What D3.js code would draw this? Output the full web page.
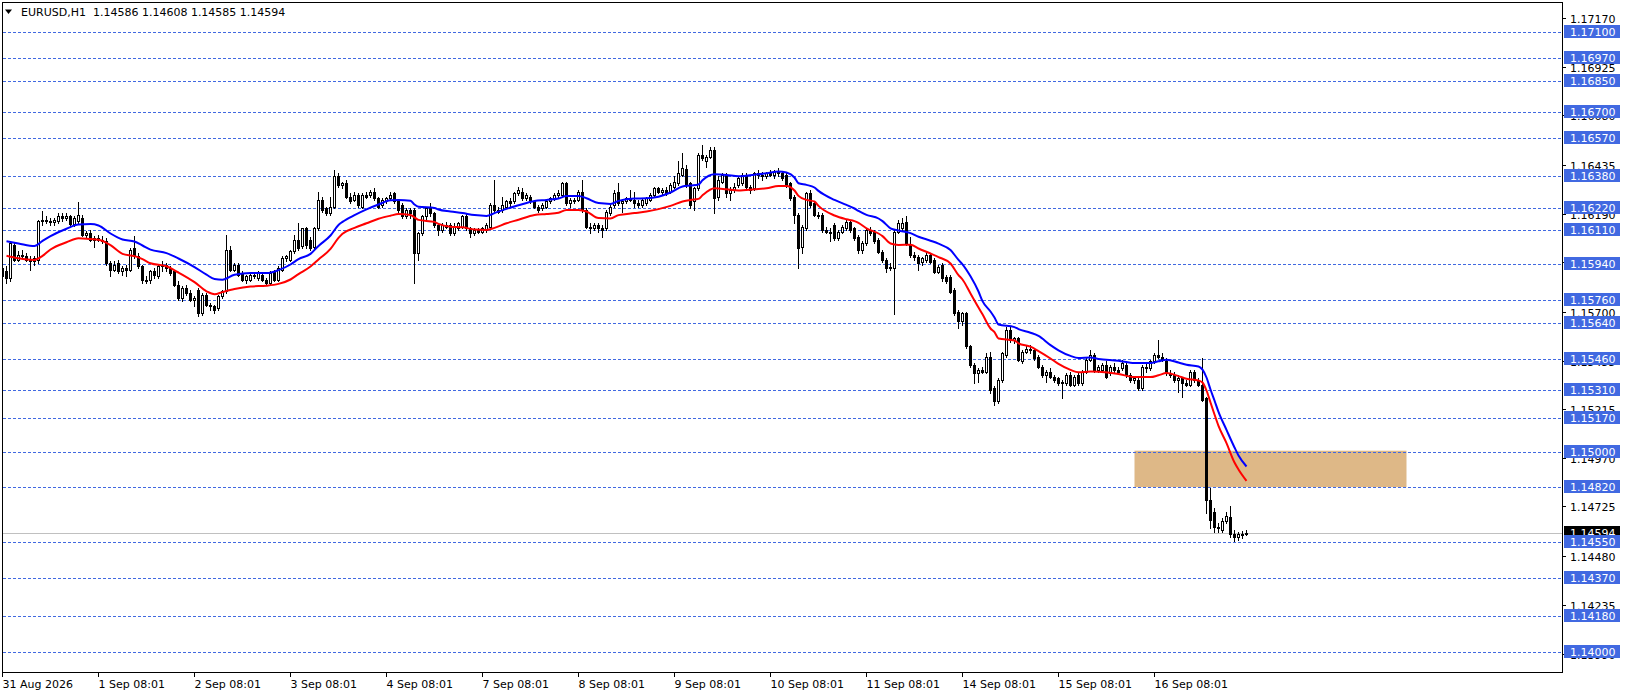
<!DOCTYPE html>
<html><head><meta charset="utf-8">
<script src="https://cdn.jsdelivr.net/npm/d3@7/dist/d3.min.js"></script>
<style>
body{margin:0;background:#fff;}
svg{display:block;}
text{font-family:"DejaVu Sans",sans-serif;font-size:11px;}
</style>
</head><body>
<svg id="chart" width="1626" height="696"></svg>
<script>
// ---------------- DATA ----------------
const symbol = "EURUSD,H1";
const opens = [
1.15918,1.15901,1.15867,1.16034,1.15959,1.15984,1.15976,1.15959,1.15951,1.15959,
1.16151,1.16159,1.16151,1.16146,1.16151,1.16176,1.16167,1.16176,1.16139,1.16151,
1.16167,1.16084,1.16092,1.16059,1.16067,1.16059,1.16051,1.15942,1.15909,1.15942,
1.15901,1.15917,1.15909,1.16017,1.15976,1.15926,1.15859,1.15859,1.15901,1.15876,
1.15926,1.15934,1.15917,1.15901,1.15834,1.15767,1.15817,1.15792,1.15759,1.15809,
1.15692,1.15784,1.15734,1.15726,1.15717,1.15776,1.15801,1.16009,1.15909,1.15934,
1.15892,1.15859,1.15859,1.15884,1.15867,1.15884,1.15859,1.15842,1.15901,1.15859,
1.15909,1.15967,1.15959,1.16001,1.16059,1.16026,1.16117,1.16058,1.16025,1.16116,
1.16258,1.16216,1.16191,1.16225,1.16375,1.16333,1.16341,1.16275,1.16258,1.16283,
1.16225,1.16283,1.16283,1.16300,1.16266,1.16233,1.16250,1.16266,1.16291,1.16250,
1.16233,1.16175,1.16208,1.16208,1.15991,1.16091,1.16175,1.16216,1.16191,1.16133,
1.16108,1.16133,1.16133,1.16091,1.16116,1.16125,1.16175,1.16116,1.16091,1.16108,
1.16100,1.16108,1.16125,1.16233,1.16208,1.16208,1.16225,1.16250,1.16250,1.16291,
1.16300,1.16266,1.16275,1.16250,1.16225,1.16216,1.16225,1.16250,1.16266,1.16283,
1.16283,1.16341,1.16241,1.16258,1.16258,1.16300,1.16208,1.16125,1.16116,1.16133,
1.16116,1.16116,1.16191,1.16233,1.16300,1.16241,1.16250,1.16266,1.16258,1.16241,
1.16233,1.16241,1.16258,1.16283,1.16316,1.16300,1.16308,1.16300,1.16325,1.16341,
1.16383,1.16411,1.16341,1.16250,1.16316,1.16483,1.16450,1.16475,1.16508,1.16275,
1.16350,1.16383,1.16291,1.16308,1.16333,1.16341,1.16383,1.16325,1.16316,1.16391,
1.16383,1.16375,1.16391,1.16383,1.16400,1.16391,1.16383,1.16341,1.16275,1.16183,
1.16025,1.16116,1.16291,1.16241,1.16183,1.16183,1.16108,1.16100,1.16133,1.16066,
1.16100,1.16116,1.16150,1.16116,1.16075,1.16008,1.16041,1.16108,1.16100,1.16058,
1.16000,1.15958,1.15916,1.15916,1.16100,1.16116,1.16150,1.16034,1.15984,1.15975,
1.15950,1.15959,1.15984,1.15959,1.15900,1.15934,1.15875,1.15875,1.15809,1.15700,
1.15650,1.15692,1.15525,1.15434,1.15392,1.15409,1.15400,1.15475,1.15317,1.15250,
1.15359,1.15484,1.15609,1.15559,1.15567,1.15450,1.15500,1.15512,1.15509,1.15475,
1.15425,1.15384,1.15400,1.15375,1.15367,1.15342,1.15342,1.15384,1.15334,1.15384,
1.15342,1.15400,1.15459,1.15484,1.15409,1.15409,1.15434,1.15392,1.15425,1.15409,
1.15417,1.15434,1.15384,1.15359,1.15359,1.15317,1.15425,1.15417,1.15450,1.15484,
1.15475,1.15450,1.15392,1.15384,1.15359,1.15367,1.15342,1.15334,1.15400,1.15359,
1.15334,1.15267,1.14758,1.14700,1.14625,1.14609,1.14650,1.14675,1.14590,1.14575,
1.14590,1.14586];
const highs = [
1.15926,1.15926,1.16050,1.16042,1.16001,1.16009,1.15992,1.15976,1.15976,1.16159,
1.16201,1.16176,1.16167,1.16167,1.16192,1.16192,1.16192,1.16184,1.16176,1.16246,
1.16184,1.16101,1.16109,1.16076,1.16084,1.16076,1.16067,1.15951,1.15951,1.15959,
1.15926,1.15934,1.16017,1.16076,1.15992,1.15934,1.15876,1.15909,1.15917,1.15934,
1.15951,1.15942,1.15926,1.15909,1.15851,1.15826,1.15834,1.15809,1.15776,1.15817,
1.15792,1.15792,1.15742,1.15734,1.15784,1.15809,1.16084,1.16026,1.15942,1.15942,
1.15901,1.15884,1.15892,1.15892,1.15901,1.15892,1.15867,1.15901,1.15909,1.15926,
1.15976,1.15984,1.16009,1.16084,1.16142,1.16117,1.16125,1.16075,1.16125,1.16300,
1.16275,1.16225,1.16275,1.16408,1.16391,1.16350,1.16358,1.16291,1.16300,1.16291,
1.16291,1.16300,1.16308,1.16316,1.16275,1.16266,1.16275,1.16300,1.16300,1.16258,
1.16241,1.16216,1.16216,1.16216,1.16100,1.16183,1.16225,1.16241,1.16200,1.16141,
1.16141,1.16150,1.16141,1.16141,1.16150,1.16183,1.16191,1.16125,1.16116,1.16116,
1.16125,1.16141,1.16241,1.16358,1.16225,1.16275,1.16258,1.16266,1.16300,1.16325,
1.16316,1.16291,1.16283,1.16258,1.16233,1.16241,1.16258,1.16275,1.16291,1.16308,
1.16350,1.16350,1.16266,1.16266,1.16308,1.16358,1.16216,1.16141,1.16141,1.16141,
1.16133,1.16208,1.16233,1.16308,1.16341,1.16258,1.16275,1.16308,1.16300,1.16258,
1.16266,1.16275,1.16291,1.16325,1.16325,1.16316,1.16325,1.16341,1.16375,1.16450,
1.16491,1.16433,1.16350,1.16325,1.16491,1.16533,1.16483,1.16525,1.16525,1.16375,
1.16391,1.16391,1.16325,1.16341,1.16375,1.16391,1.16391,1.16333,1.16400,1.16408,
1.16400,1.16400,1.16408,1.16408,1.16416,1.16400,1.16391,1.16350,1.16283,1.16191,
1.16133,1.16300,1.16308,1.16250,1.16200,1.16191,1.16125,1.16116,1.16141,1.16108,
1.16133,1.16158,1.16158,1.16125,1.16083,1.16050,1.16116,1.16125,1.16108,1.16066,
1.16008,1.15966,1.15941,1.16108,1.16158,1.16166,1.16175,1.16075,1.16000,1.15984,
1.15975,1.16000,1.15992,1.15967,1.15934,1.15942,1.15884,1.15884,1.15817,1.15709,
1.15700,1.15700,1.15534,1.15442,1.15417,1.15425,1.15492,1.15500,1.15325,1.15367,
1.15500,1.15625,1.15625,1.15575,1.15575,1.15509,1.15525,1.15534,1.15517,1.15484,
1.15434,1.15409,1.15417,1.15384,1.15375,1.15359,1.15392,1.15400,1.15384,1.15392,
1.15409,1.15467,1.15509,1.15492,1.15434,1.15442,1.15450,1.15434,1.15442,1.15425,
1.15459,1.15450,1.15392,1.15375,1.15367,1.15434,1.15442,1.15459,1.15492,1.15559,
1.15492,1.15467,1.15409,1.15400,1.15384,1.15375,1.15359,1.15409,1.15409,1.15367,
1.15467,1.15275,1.14817,1.14717,1.14642,1.14667,1.14700,1.14725,1.14610,1.14600,
1.14605,1.14608];
const lows = [
1.15843,1.15842,1.15851,1.15951,1.15951,1.15967,1.15951,1.15909,1.15934,1.15942,
1.16134,1.16142,1.16134,1.16134,1.16142,1.16151,1.16159,1.16134,1.16126,1.16142,
1.16076,1.16067,1.16051,1.16022,1.16051,1.16042,1.15934,1.15876,1.15901,1.15892,
1.15884,1.15876,1.15901,1.15967,1.15917,1.15842,1.15842,1.15842,1.15867,1.15867,
1.15901,1.15901,1.15884,1.15826,1.15759,1.15751,1.15784,1.15751,1.15726,1.15676,
1.15684,1.15726,1.15709,1.15692,1.15709,1.15767,1.15792,1.15901,1.15901,1.15876,
1.15851,1.15842,1.15851,1.15867,1.15859,1.15851,1.15834,1.15834,1.15851,1.15851,
1.15901,1.15951,1.15951,1.15992,1.16009,1.16017,1.16017,1.16008,1.16016,1.16108,
1.16200,1.16183,1.16183,1.16216,1.16325,1.16316,1.16266,1.16241,1.16250,1.16225,
1.16216,1.16266,1.16275,1.16258,1.16216,1.16225,1.16241,1.16258,1.16241,1.16200,
1.16166,1.16166,1.16166,1.15845,1.15958,1.16083,1.16158,1.16175,1.16125,1.16083,
1.16100,1.16116,1.16083,1.16083,1.16108,1.16116,1.16108,1.16075,1.16083,1.16091,
1.16091,1.16100,1.16116,1.16200,1.16191,1.16200,1.16216,1.16225,1.16241,1.16283,
1.16258,1.16258,1.16241,1.16216,1.16200,1.16208,1.16216,1.16241,1.16258,1.16266,
1.16275,1.16233,1.16225,1.16241,1.16250,1.16200,1.16116,1.16091,1.16108,1.16100,
1.16075,1.16108,1.16183,1.16225,1.16233,1.16200,1.16241,1.16250,1.16225,1.16225,
1.16225,1.16233,1.16250,1.16275,1.16291,1.16283,1.16283,1.16291,1.16316,1.16333,
1.16375,1.16325,1.16216,1.16208,1.16308,1.16458,1.16425,1.16466,1.16191,1.16258,
1.16341,1.16275,1.16258,1.16300,1.16325,1.16333,1.16316,1.16291,1.16308,1.16366,
1.16358,1.16366,1.16375,1.16366,1.16375,1.16358,1.16325,1.16258,1.16141,1.15916,
1.15991,1.16108,1.16225,1.16175,1.16166,1.16100,1.16091,1.16050,1.16058,1.16058,
1.16091,1.16108,1.16100,1.16058,1.15991,1.15991,1.16033,1.16083,1.16041,1.15991,
1.15950,1.15900,1.15908,1.15690,1.16091,1.16108,1.16033,1.15975,1.15959,1.15909,
1.15934,1.15950,1.15942,1.15892,1.15892,1.15850,1.15842,1.15792,1.15684,1.15617,
1.15634,1.15517,1.15425,1.15342,1.15350,1.15392,1.15392,1.15292,1.15234,1.15242,
1.15350,1.15475,1.15550,1.15542,1.15450,1.15442,1.15492,1.15492,1.15459,1.15417,
1.15375,1.15350,1.15367,1.15350,1.15334,1.15267,1.15334,1.15325,1.15325,1.15334,
1.15334,1.15392,1.15450,1.15400,1.15400,1.15400,1.15367,1.15384,1.15392,1.15392,
1.15409,1.15375,1.15350,1.15342,1.15309,1.15309,1.15400,1.15409,1.15442,1.15467,
1.15450,1.15384,1.15375,1.15350,1.15300,1.15275,1.15325,1.15325,1.15350,1.15325,
1.15250,1.14692,1.14617,1.14600,1.14600,1.14600,1.14642,1.14575,1.14555,1.14560,
1.14570,1.14585];
const closes = [
1.15876,1.15867,1.16042,1.15959,1.15984,1.15976,1.15959,1.15951,1.15967,1.16151,
1.16159,1.16151,1.16146,1.16159,1.16176,1.16167,1.16176,1.16139,1.16167,1.16184,
1.16084,1.16092,1.16059,1.16067,1.16059,1.16051,1.15942,1.15909,1.15934,1.15901,
1.15917,1.15909,1.16009,1.15976,1.15926,1.15859,1.15851,1.15901,1.15884,1.15926,
1.15934,1.15917,1.15892,1.15834,1.15767,1.15817,1.15792,1.15759,1.15767,1.15692,
1.15784,1.15734,1.15726,1.15709,1.15776,1.15801,1.16009,1.15909,1.15934,1.15884,
1.15859,1.15876,1.15884,1.15876,1.15892,1.15859,1.15842,1.15892,1.15859,1.15917,
1.15967,1.15976,1.16001,1.16059,1.16017,1.16117,1.16034,1.16016,1.16116,1.16258,
1.16208,1.16191,1.16225,1.16375,1.16333,1.16341,1.16275,1.16250,1.16283,1.16233,
1.16283,1.16275,1.16300,1.16266,1.16225,1.16258,1.16266,1.16283,1.16250,1.16208,
1.16175,1.16208,1.16191,1.15991,1.16091,1.16175,1.16216,1.16191,1.16133,1.16108,
1.16133,1.16125,1.16091,1.16125,1.16141,1.16175,1.16116,1.16091,1.16108,1.16100,
1.16116,1.16133,1.16233,1.16208,1.16200,1.16233,1.16250,1.16241,1.16291,1.16308,
1.16266,1.16283,1.16250,1.16225,1.16208,1.16233,1.16250,1.16266,1.16283,1.16291,
1.16341,1.16241,1.16258,1.16250,1.16300,1.16208,1.16125,1.16116,1.16133,1.16116,
1.16108,1.16200,1.16225,1.16291,1.16241,1.16250,1.16266,1.16258,1.16241,1.16233,
1.16258,1.16266,1.16283,1.16316,1.16300,1.16308,1.16291,1.16333,1.16350,1.16391,
1.16416,1.16333,1.16233,1.16316,1.16483,1.16466,1.16475,1.16508,1.16266,1.16358,
1.16383,1.16291,1.16308,1.16325,1.16366,1.16383,1.16325,1.16308,1.16391,1.16383,
1.16375,1.16391,1.16383,1.16400,1.16391,1.16366,1.16333,1.16266,1.16183,1.16016,
1.16125,1.16291,1.16233,1.16183,1.16175,1.16108,1.16100,1.16091,1.16066,1.16100,
1.16125,1.16150,1.16108,1.16066,1.16008,1.16041,1.16108,1.16091,1.16050,1.16000,
1.15958,1.15916,1.15925,1.16100,1.16141,1.16141,1.16041,1.15984,1.15975,1.15942,
1.15967,1.15984,1.15950,1.15900,1.15925,1.15867,1.15850,1.15800,1.15692,1.15650,
1.15692,1.15525,1.15434,1.15392,1.15409,1.15400,1.15475,1.15309,1.15250,1.15359,
1.15492,1.15609,1.15559,1.15567,1.15459,1.15500,1.15512,1.15509,1.15467,1.15425,
1.15384,1.15400,1.15375,1.15359,1.15342,1.15350,1.15384,1.15334,1.15375,1.15342,
1.15400,1.15459,1.15484,1.15409,1.15425,1.15434,1.15375,1.15425,1.15409,1.15400,
1.15442,1.15384,1.15359,1.15367,1.15317,1.15425,1.15417,1.15450,1.15484,1.15475,
1.15459,1.15392,1.15384,1.15359,1.15367,1.15342,1.15334,1.15400,1.15359,1.15334,
1.15259,1.14759,1.14658,1.14625,1.14617,1.14650,1.14679,1.14590,1.14575,1.14590,
1.14586,1.14594];

// moving-average lines (at these bar numbers)
const maBars = [1,4,8,10,12,16,19,22,24,27,30,33,35,37,41,44,48,51,53,55,58,62,66,69,72,74,77,79,82,84,
85,88,91,94,97,99,102,103,104,108,109,112,115,118,121,123,126,129,133,136,139,141,144,146,149,152,154,158,161,164,
167,170,172,174,175,178,181,184,188,191,194,196,198,199,201,203,204,208,211,213,214,216,219,220,222,224,227,229,232,234,
237,239,240,242,244,245,247,248,249,253,254,257,259,262,264,267,269,272,274,279,283,287,289,291,294,296,299,300,301,302,
303,304,306,308,309,311];
const maBlue = [
1.16051,1.16040,1.16027,1.16053,1.16077,1.16114,1.16135,1.16137,1.16130,1.16090,
1.16060,1.16050,1.16030,1.16009,1.15992,1.15965,1.15922,1.15884,1.15862,1.15859,
1.15884,1.15892,1.15892,1.15907,1.15935,1.15962,1.15988,1.16028,1.16080,1.16133,
1.16148,1.16182,1.16211,1.16235,1.16256,1.16258,1.16254,1.16235,1.16224,1.16218,
1.16210,1.16200,1.16192,1.16182,1.16178,1.16192,1.16213,1.16231,1.16253,1.16258,
1.16265,1.16278,1.16278,1.16266,1.16242,1.16238,1.16253,1.16265,1.16266,1.16274,
1.16295,1.16325,1.16330,1.16335,1.16356,1.16386,1.16383,1.16376,1.16384,1.16391,
1.16400,1.16395,1.16370,1.16341,1.16333,1.16320,1.16303,1.16258,1.16233,1.16215,
1.16203,1.16183,1.16165,1.16152,1.16116,1.16105,1.16092,1.16074,1.16054,1.16039,
1.16007,1.15958,1.15936,1.15876,1.15800,1.15752,1.15700,1.15670,1.15635,1.15622,
1.15612,1.15594,1.15578,1.15532,1.15506,1.15478,1.15468,1.15470,1.15463,1.15454,
1.15442,1.15442,1.15451,1.15459,1.15445,1.15434,1.15425,1.15409,1.15370,1.15310,
1.15255,1.15198,1.15108,1.15020,1.14980,1.14925];
const maRed = [
1.15979,1.15966,1.15958,1.15978,1.16010,1.16046,1.16066,1.16062,1.16059,1.16032,
1.15988,1.15977,1.15962,1.15941,1.15926,1.15895,1.15847,1.15801,1.15786,1.15797,
1.15812,1.15825,1.15829,1.15838,1.15860,1.15887,1.15925,1.15960,1.16013,1.16068,
1.16089,1.16118,1.16141,1.16164,1.16179,1.16187,1.16182,1.16171,1.16158,1.16148,
1.16138,1.16124,1.16121,1.16110,1.16108,1.16118,1.16141,1.16159,1.16183,1.16188,
1.16194,1.16208,1.16208,1.16200,1.16167,1.16165,1.16182,1.16192,1.16200,1.16212,
1.16228,1.16250,1.16258,1.16263,1.16281,1.16316,1.16311,1.16305,1.16311,1.16316,
1.16328,1.16328,1.16305,1.16278,1.16258,1.16250,1.16228,1.16180,1.16161,1.16152,
1.16143,1.16116,1.16090,1.16077,1.16040,1.16033,1.16034,1.16015,1.15990,1.15972,
1.15940,1.15882,1.15860,1.15790,1.15720,1.15686,1.15615,1.15597,1.15565,1.15555,
1.15541,1.15524,1.15502,1.15465,1.15438,1.15408,1.15396,1.15400,1.15399,1.15388,
1.15372,1.15372,1.15381,1.15392,1.15377,1.15364,1.15355,1.15345,1.15305,1.15245,
1.15185,1.15128,1.15042,1.14945,1.14910,1.14853];

// horizontal level lines
const levels = [1.1710,1.1697,1.1685,1.1670,1.1657,1.1638,1.1622,1.1611,1.1594,1.1576,
1.1564,1.1546,1.1531,1.1517,1.1500,1.1482,1.1455,1.1437,1.1418,1.1400];
// price-axis tick labels
const priceTicks = ["1.17170","1.16925","1.16680","1.16435","1.16190","1.15945","1.15700",
"1.15455","1.15215","1.14970","1.14725","1.14480","1.14235","1.13990"];
// time-axis labels and the bar they sit on
const timeLabels = ["31 Aug 2026","1 Sep 08:01","2 Sep 08:01","3 Sep 08:01","4 Sep 08:01",
"7 Sep 08:01","8 Sep 08:01","9 Sep 08:01","10 Sep 08:01","11 Sep 08:01","14 Sep 08:01",
"15 Sep 08:01","16 Sep 08:01"];
const timeBars = [0,24,48,72,96,120,144,168,192,216,240,264,288];
// rectangle zone
const zoneBars = [283, 351];
const zonePrices = [1.15004, 1.14822];

// ---------------- LAYOUT ----------------
const L = 3, T = 3, R = 1562, B = 672;
const nBars = closes.length;
const x = d3.scaleLinear().domain([0, 311]).range([2.5, 1246.5]);
const y = d3.scaleLinear().domain([1.138975, 1.172425]).range([B, T]);
const blueLbl = "#4169e1";

const svg = d3.select("#chart");
svg.append("rect").attr("width",1626).attr("height",696).attr("fill","#fff");
svg.append("defs").append("clipPath").attr("id","plotclip")
  .append("rect").attr("x",L).attr("y",T).attr("width",R-L).attr("height",B-T);
const plot = svg.append("g").attr("clip-path","url(#plotclip)");

// zone rectangle (background object)
plot.append("rect")
  .attr("x", x(zoneBars[0]))
  .attr("y", y(zonePrices[0]))
  .attr("width", x(zoneBars[1]) - x(zoneBars[0]))
  .attr("height", y(zonePrices[1]) - y(zonePrices[0]))
  .attr("fill", "#deb887");

// dashed level lines
plot.selectAll("line.lvl").data(levels).join("line")
  .attr("class","lvl")
  .attr("x1",L).attr("x2",R)
  .attr("y1",d=>Math.round(y(d))+0.5).attr("y2",d=>Math.round(y(d))+0.5)
  .attr("stroke",blueLbl).attr("stroke-width",1).attr("stroke-dasharray","3,2");

// current price line
const last = nBars - 1;
const bid = closes[last];
plot.append("line")
  .attr("x1",L).attr("x2",R)
  .attr("y1",Math.round(y(bid))+0.5).attr("y2",Math.round(y(bid))+0.5)
  .attr("stroke","#c0c0c0").attr("stroke-width",1);

// candles
const bars = d3.range(nBars).map(i=>({i, o:opens[i], h:highs[i], l:lows[i], c:closes[i]}));
const cg = plot.append("g");
bars.forEach(d=>{
  const cx = Math.floor(x(d.i)) + 0.5;
  const hi = Math.max(d.h, d.o, d.c), lo = Math.min(d.l, d.o, d.c);
  const yh = Math.round(y(hi)), yl = Math.round(y(lo));
  cg.append("line").attr("x1",cx).attr("x2",cx).attr("y1",yh).attr("y2",yl+1)
    .attr("stroke","#000").attr("stroke-width",1);
  const top = Math.round(y(Math.max(d.o,d.c))), bot = Math.round(y(Math.min(d.o,d.c)));
  if (d.c > d.o) {
    cg.append("rect").attr("x",cx-1).attr("y",top+0.5)
      .attr("width",2).attr("height",Math.max(bot-top,1))
      .attr("fill","#fff").attr("stroke","#000").attr("stroke-width",1);
  } else if (d.c < d.o) {
    cg.append("rect").attr("x",cx-1.5).attr("y",top)
      .attr("width",3).attr("height",Math.max(bot-top,1)+1)
      .attr("fill","#000");
  } else {
    cg.append("line").attr("x1",cx-1.5).attr("x2",cx+1.5)
      .attr("y1",top+0.5).attr("y2",top+0.5).attr("stroke","#000");
  }
});

// moving averages
const maLine = (vals)=>d3.line().curve(d3.curveMonotoneX)
  .x((d,k)=>x(maBars[k])).y(d=>y(d))(vals);
plot.append("path").attr("d",maLine(maBlue)).attr("fill","none")
  .attr("stroke","#0000ff").attr("stroke-width",2).attr("stroke-linejoin","round");
plot.append("path").attr("d",maLine(maRed)).attr("fill","none")
  .attr("stroke","#ff0000").attr("stroke-width",2).attr("stroke-linejoin","round");

// frame
svg.append("rect").attr("x",L-0.5).attr("y",T-0.5).attr("width",R-L+1).attr("height",B-T+1)
  .attr("fill","none").attr("stroke","#000").attr("stroke-width",1);

// time axis
const tg = svg.append("g");
timeLabels.forEach((lab,k)=>{
  const tx = Math.floor(x(timeBars[k])) + 0.5;
  tg.append("line").attr("x1",tx).attr("x2",tx).attr("y1",B+1).attr("y2",B+5)
    .attr("stroke","#000");
  tg.append("text").attr("x",tx).attr("y",B+16).attr("fill","#000").text(lab);
});

// price axis ticks & labels
const pg = svg.append("g");
priceTicks.forEach(lab=>{
  const py = Math.round(y(+lab)) + 0.5;
  pg.append("line").attr("x1",R).attr("x2",R+4).attr("y1",py).attr("y2",py).attr("stroke","#000");
  pg.append("text").attr("x",R+8).attr("y",py+4).attr("fill","#000").text(lab);
});

// current price label
const by = Math.round(y(bid));
pg.append("rect").attr("x",R+2).attr("y",by-7).attr("width",56).attr("height",13).attr("fill","#000");
pg.append("text").attr("x",R+8).attr("y",by+4).attr("fill","#fff").text(bid.toFixed(5));

// level labels
levels.forEach(v=>{
  const ly = Math.round(y(v));
  pg.append("rect").attr("x",R+2).attr("y",ly-7).attr("width",56).attr("height",13).attr("fill",blueLbl);
  pg.append("text").attr("x",R+8).attr("y",ly+4).attr("fill","#fff").text(v.toFixed(5));
});

// header
svg.append("path").attr("d","M5,9.5 L12,9.5 L8.5,14 Z").attr("fill","#000");
svg.append("text").attr("x",21).attr("y",16).attr("fill","#000")
  .style("white-space","pre")
  .text(symbol + "  " + [opens[last],highs[last],lows[last],closes[last]].map(v=>v.toFixed(5)).join(" "));
</script>
</body></html>
